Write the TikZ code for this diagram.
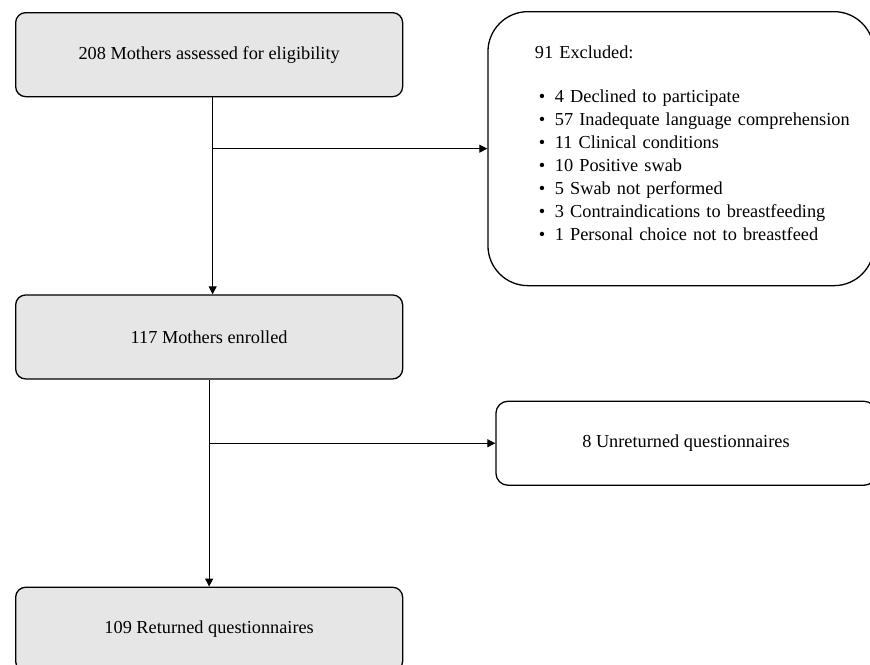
\documentclass[tikz,border=0pt]{standalone}
\usepackage{fontspec}
\setmainfont{Liberation Serif}
\usepackage{xcolor}
\usetikzlibrary{arrows.meta}
\usetikzlibrary{positioning}

\definecolor{boxgray}{RGB}{230,230,230}
\newcommand{\excl}[1]{\\\mbox{\hspace*{4pt}\makebox[16pt][l]{\textbullet}#1}}

\begin{document}
\begin{tikzpicture}[x=1pt, y=1pt, line width=1.3pt,
		font=\fontsize{18.3}{23}\selectfont,
		main/.style = {draw, fill=boxgray, rounded corners=10pt, minimum width=387pt, minimum height=84pt},
		side/.style = {draw, rounded corners=12pt, minimum width=380pt, minimum height=84pt},
		list/.style = {draw, rounded corners=40pt, minimum width=386pt, minimum height=274pt,
			text width=292pt, inner xsep=47pt, align=left}]
		\useasboundingbox (0,0) rectangle (870,-664);
		\clip (0,0) rectangle (870,-664);

		\node[main, anchor=north west] (assessed) at (15,-12) {208 Mothers assessed for eligibility};
		\node[main] (enrolled) [below = 197pt of assessed] {117 Mothers enrolled};
		\node[main] (returned) [below = 207pt of enrolled] {109 Returned questionnaires};
		\node[list] (excluded) [below right = -1pt and 84pt of assessed.north east] {91 Excluded:\\[21pt]
			\mbox{\hspace*{4pt}\makebox[16pt][l]{\textbullet}4 Declined to participate}
			\excl{57 Inadequate language comprehension}
			\excl{11 Clinical conditions}
			\excl{10 Positive swab}
			\excl{5 Swab not performed}
			\excl{3 Contraindications to breastfeeding}
			\excl{1 Personal choice not to breastfeed}\\[-11pt]\mbox{}};
		\node[side] (unreturned) [below right = 21pt and 92pt of enrolled.south east] {8 Unreturned questionnaires};

		\coordinate (split1) at ([xshift=3.5pt]assessed.south |- excluded.west);
		\coordinate (split2) at (enrolled.south |- unreturned.west);

		\begin{scope}[line width=1pt, -{Triangle[length=8pt, width=8pt]}]
			\draw ([xshift=3.5pt]assessed.south) -- ([xshift=3.5pt]enrolled.north);
			\draw (split1) -- (excluded.west);
			\draw (enrolled) -- (returned);
			\draw (split2) -- (unreturned.west);
		\end{scope}
	\end{tikzpicture}
\end{document}
